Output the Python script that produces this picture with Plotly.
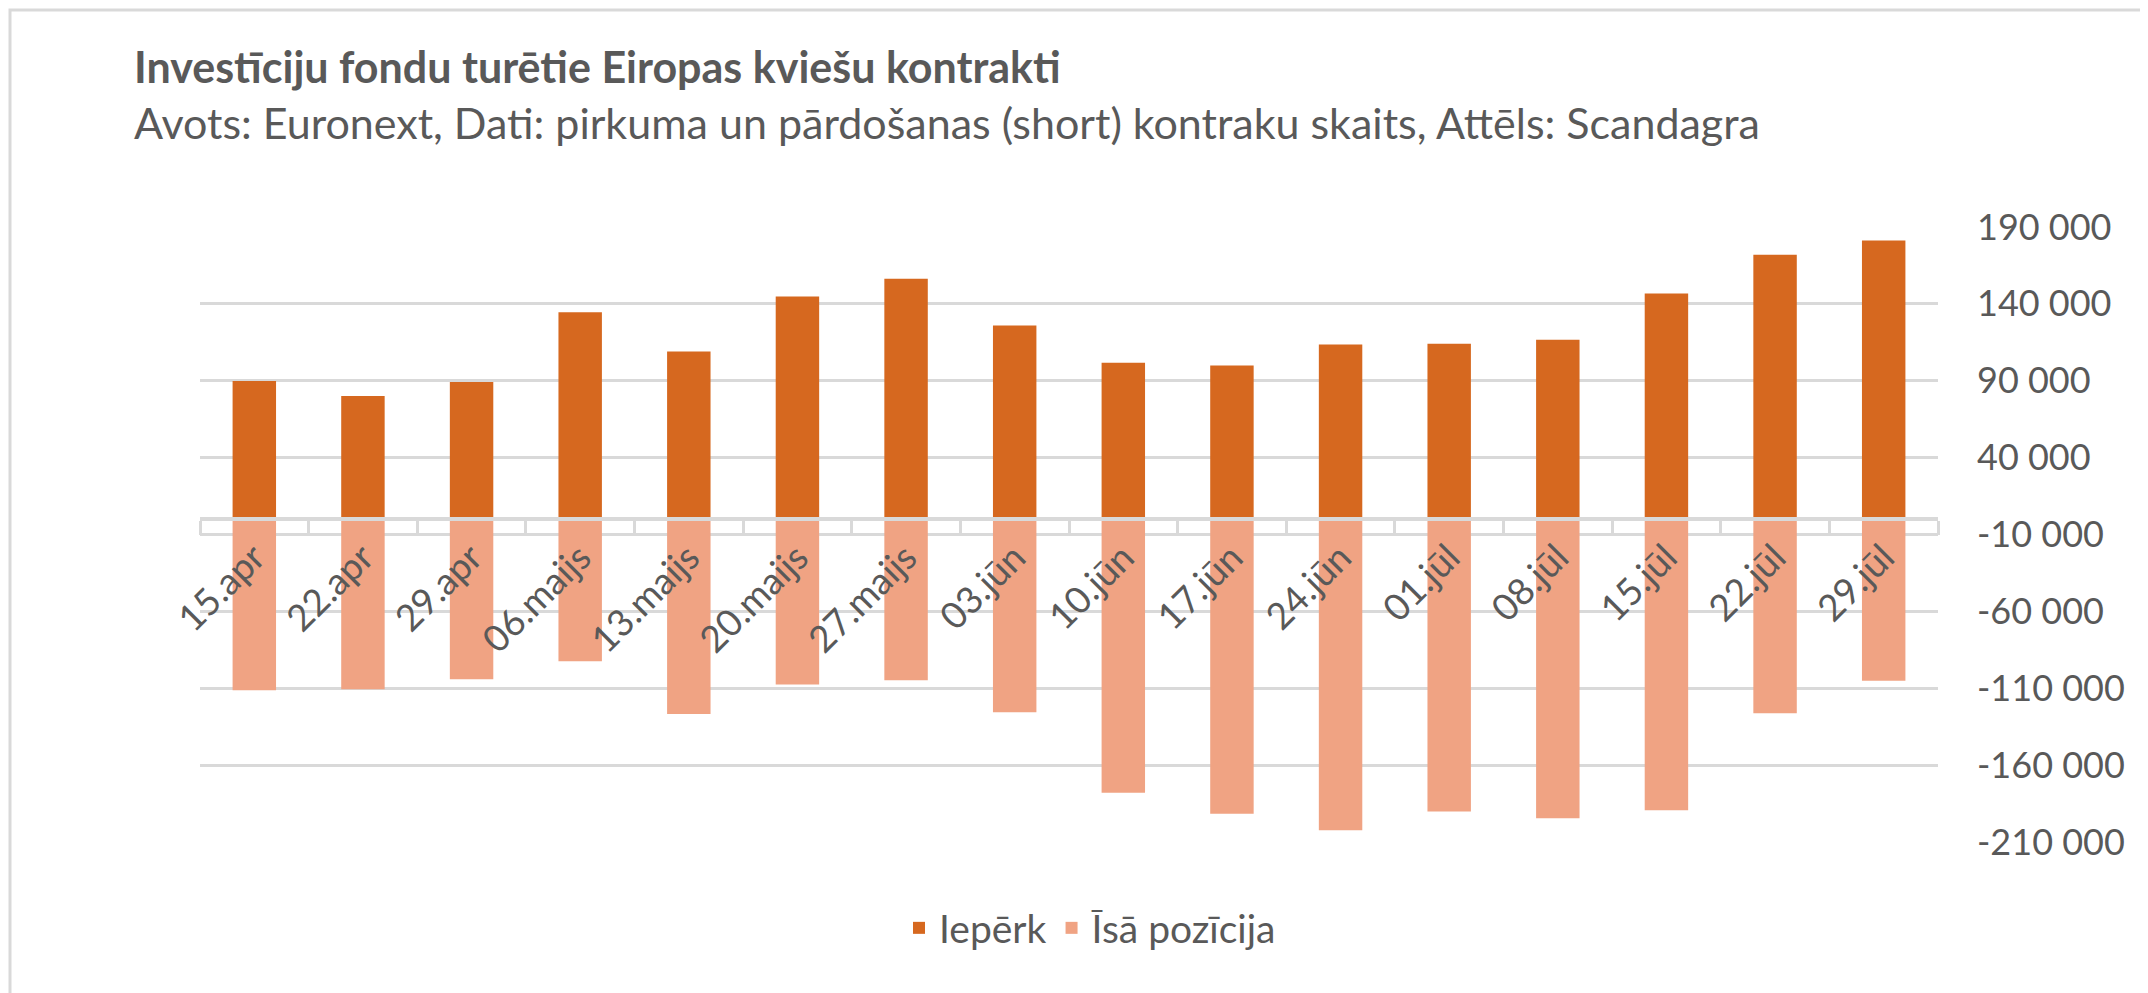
"""Investment fund positions in Euronext wheat contracts: long vs short, weekly."""

import plotly.graph_objects as go

WIDTH, HEIGHT = 2148, 993
MARGIN = {"l": 192, "r": 218, "t": 219, "b": 159}

dates = [
    "15.apr", "22.apr", "29.apr", "06.maijs", "13.maijs", "20.maijs", "27.maijs", "03.jūn",
    "10.jūn", "17.jūn", "24.jūn", "01.jūl", "08.jūl", "15.jūl", "22.jūl", "29.jūl",
]
iepērk = [
    89800, 80100, 89200, 134600, 109000, 144800, 156300, 125900,
    101700, 100000, 113500, 114100, 116700, 146700, 172000, 181300,
]
īsā_pozīcija = [
    -111300, -110600, -104100, -92400, -126800, -107600, -104800, -125600,
    -178000, -191600, -202300, -190100, -194500, -189300, -126200, -105200,
]

y_tick_values = [190000, 140000, 90000, 40000, -10000, -60000, -110000, -160000, -210000]
y_tick_labels = ["190 000", "140 000", "90 000", "40 000", "-10 000", "-60 000", "-110 000", "-160 000", "-210 000"]

Y_MIN, Y_MAX = -210000, 190000
FONT = "Lato"
TEXT = "#595959"
GRID = "#D9D9D9"

plot_w = WIDTH - MARGIN["l"] - MARGIN["r"]
plot_h = HEIGHT - MARGIN["t"] - MARGIN["b"]


def px_x(x):
    return (x - MARGIN["l"]) / plot_w


def px_y(y):
    return (HEIGHT - MARGIN["b"] - y) / plot_h


fig = go.Figure()
fig.add_trace(go.Bar(x=dates, y=iepērk, name="Iepērk", marker={"color": "#D6681F", "line": {"width": 0}}))
fig.add_trace(go.Bar(x=dates, y=īsā_pozīcija, name="Īsā pozīcija", marker={"color": "#F0A383", "line": {"width": 0}}))

zero_pos = (0 - Y_MIN) / (Y_MAX - Y_MIN)

fig.update_layout(
    width=WIDTH,
    height=HEIGHT,
    margin=MARGIN,
    barmode="relative",
    bargap=0.6,
    paper_bgcolor="white",
    plot_bgcolor="white",
    font={"family": FONT, "color": TEXT, "size": 36},
    showlegend=True,
    legend={
        "orientation": "h",
        "x": px_x(1082),
        "xanchor": "center",
        "y": px_y(920),
        "yanchor": "middle",
        "font": {"size": 39, "color": TEXT},
        "traceorder": "normal",
    },
    xaxis={
        "type": "category",
        "anchor": "free",
        "position": zero_pos,
        "showline": True,
        "linecolor": GRID,
        "linewidth": 4,
        "ticks": "outside",
        "tickson": "boundaries",
        "ticklen": 14,
        "tickwidth": 3,
        "tickcolor": GRID,
        "tickangle": -45,
        "showgrid": False,
        "automargin": False,
        "tickfont": {"size": 37, "color": TEXT},
    },
    yaxis={
        "side": "right",
        "range": [Y_MIN, Y_MAX],
        "tickvals": y_tick_values,
        "ticktext": y_tick_labels,
        "showgrid": True,
        "gridcolor": GRID,
        "gridwidth": 3,
        "zeroline": False,
        "ticks": "",
        "ticklabelstandoff": 38,
        "automargin": False,
        "tickfont": {"size": 36, "color": TEXT},
    },
    annotations=[
        {
            "text": "<b>Investīciju fondu turētie Eiropas kviešu kontrakti</b>",
            "xref": "paper", "yref": "paper",
            "x": px_x(124), "y": px_y(58),
            "xanchor": "left", "yanchor": "middle",
            "showarrow": False,
            "font": {"size": 43, "color": TEXT, "family": FONT},
        },
        {
            "text": "Avots: Euronext, Dati: pirkuma un pārdošanas (short) kontraku skaits, Attēls: Scandagra",
            "xref": "paper", "yref": "paper",
            "x": px_x(124), "y": px_y(114),
            "xanchor": "left", "yanchor": "middle",
            "showarrow": False,
            "font": {"size": 43, "color": TEXT, "family": FONT},
        },
    ],
    shapes=[
        {
            "type": "rect",
            "xref": "paper", "yref": "paper",
            "x0": px_x(2), "x1": px_x(2146),
            "y0": px_y(991), "y1": px_y(2),
            "line": {"color": GRID, "width": 3},
            "layer": "below",
        }
    ],
)

fig.write_html("out.html")
